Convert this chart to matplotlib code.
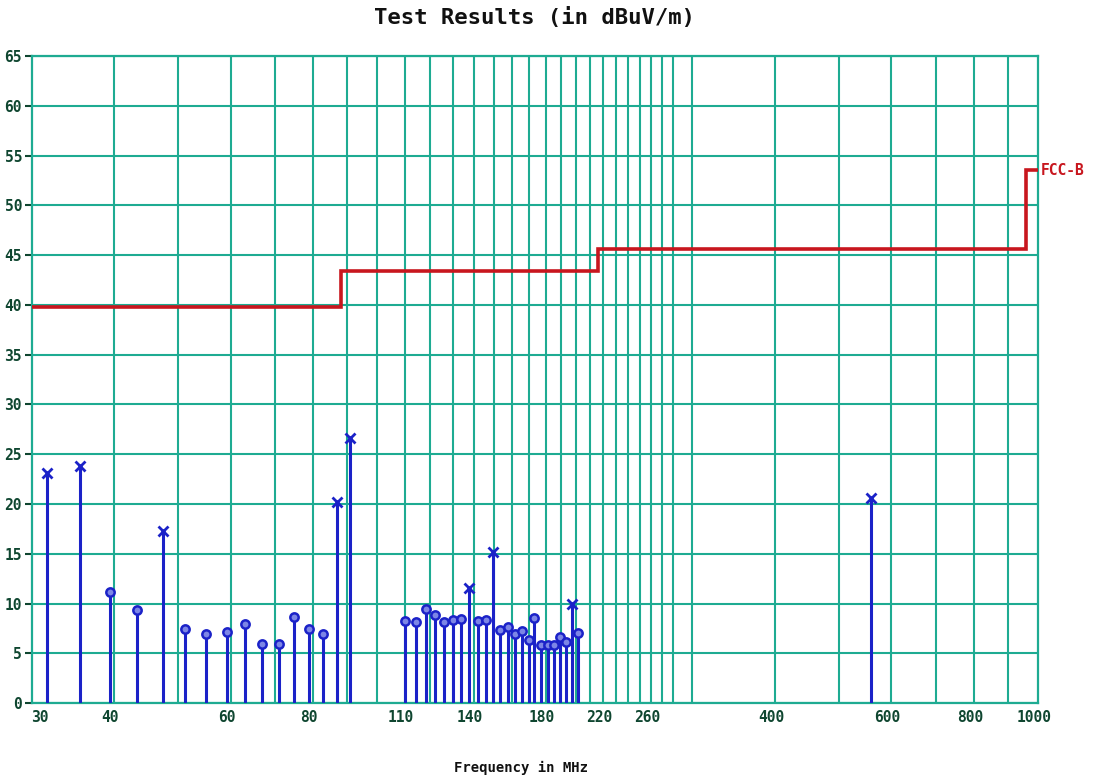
import matplotlib
matplotlib.use("Agg")
import matplotlib.pyplot as plt
import matplotlib.transforms as mtransforms

# ---- data ----
# peak ("x") readings
peak_freq = [31.6, 35.5, 47.4, 86.8, 91.0, 137.7, 149.9, 197.0, 559.0]
peak_val = [23.1, 23.8, 17.3, 20.2, 26.6, 11.6, 15.2, 10.0, 20.6]
# quasi-peak ("o") readings
qp_freq = [39.4, 43.3, 51.1, 55.1, 59.2, 63.1, 67.0, 70.9, 74.9, 78.8, 82.7,
           110.2, 114.4, 118.4, 122.1, 126.0, 130.0, 134.0, 142.0, 146.1,
           153.4, 157.6, 161.7, 165.5, 169.8, 172.9, 177.0, 181.2, 185.2,
           189.1, 193.1, 201.2]
qp_val = [11.15, 9.4, 7.4, 6.9, 7.1, 8.0, 5.95, 5.95, 8.7, 7.4, 6.95,
          8.3, 8.2, 9.5, 8.9, 8.2, 8.4, 8.5, 8.3, 8.4,
          7.3, 7.7, 6.9, 7.2, 6.3, 8.6, 5.8, 5.8, 5.8,
          6.6, 6.1, 7.0]
# FCC class B limit line (step)
limit_freq = [30, 88, 88, 216, 216, 960, 960, 1000]
limit_val = [39.8, 39.8, 43.4, 43.4, 45.6, 45.6, 53.5, 53.5]
limit_name = "FCC-B"

grid_freqs = [40, 50, 60, 70, 80, 90, 100, 110, 120, 130, 140, 150, 160, 170,
              180, 190, 200, 210, 220, 230, 240, 250, 260, 270, 280, 300,
              400, 500, 600, 700, 800, 900]
xtick_labels = [30, 40, 60, 80, 110, 140, 180, 220, 260, 400, 600, 800, 1000]
yticks = list(range(0, 70, 5))

title = "Test Results (in dBuV/m)"
xlabel = "Frequency in MHz"

# ---- style ----
GRID = "#1eab92"
TXT = "#0f4630"
BLUE = "#1b22c8"
RED = "#c8161e"
MONO = "DejaVu Sans Mono"

fig = plt.figure(figsize=(10.96, 7.77), dpi=100)
ax = fig.add_axes([0.029, 0.095, 0.918, 0.833])
ax.set_xscale("log")
ax.set_xlim(30, 1000)
ax.set_ylim(0, 65)

# grid
ax.set_xticks(grid_freqs, minor=False)
ax.set_xticklabels([])
ax.xaxis.set_minor_locator(matplotlib.ticker.NullLocator())
ax.set_yticks(yticks)
ax.grid(True, color=GRID, linewidth=1.5, zorder=0)
ax.tick_params(axis="x", length=0)
ax.tick_params(axis="y", length=5, width=1.5, color=TXT, pad=2)
ax.set_yticklabels([str(v) for v in yticks], fontsize=10.5,
                   fontweight="bold", color=TXT, family=MONO)
for s in ax.spines.values():
    s.set_color(GRID)
    s.set_linewidth(1.6)

# x tick labels as text (custom offsets)
trans = ax.get_xaxis_transform()
for f in xtick_labels:
    off = 8 if f == 30 else -4
    t = mtransforms.offset_copy(trans, fig=fig, x=off, y=-7, units="dots")
    ax.text(f, 0, str(f), transform=t, ha="center", va="top",
            fontsize=10.5, fontweight="bold", color=TXT, family=MONO)

# limit line
ax.plot(limit_freq, limit_val, color=RED, linewidth=2.6, zorder=3,
        solid_joinstyle="miter")
ax.annotate(limit_name, (limit_freq[-1], limit_val[-1]),
            xytext=(2, 0), textcoords="offset points", va="center",
            ha="left", color=RED, fontsize=10.5, fontweight="bold",
            family=MONO, annotation_clip=False)

# stems
ax.vlines(qp_freq, 0, qp_val, color=BLUE, linewidth=2.2, zorder=4)
ax.vlines(peak_freq, 0, peak_val, color=BLUE, linewidth=2.2, zorder=4)
ax.plot(qp_freq, qp_val, linestyle="none", marker="o", markersize=6,
        markeredgewidth=1.8, markeredgecolor=BLUE, markerfacecolor="#7d86e6",
        zorder=5)
ax.plot(peak_freq, peak_val, linestyle="none", marker="x", markersize=6.5,
        markeredgewidth=2.0, color=BLUE, zorder=5)

fig.text(0.488, 0.977, title, ha="center", va="center", fontsize=16,
         fontweight="bold", family=MONO, color="#111111")
fig.text(0.475, 0.003, xlabel, ha="center", va="bottom", fontsize=10,
         fontweight="bold", family=MONO, color="#111111")

fig.savefig("out.png", dpi=100)
